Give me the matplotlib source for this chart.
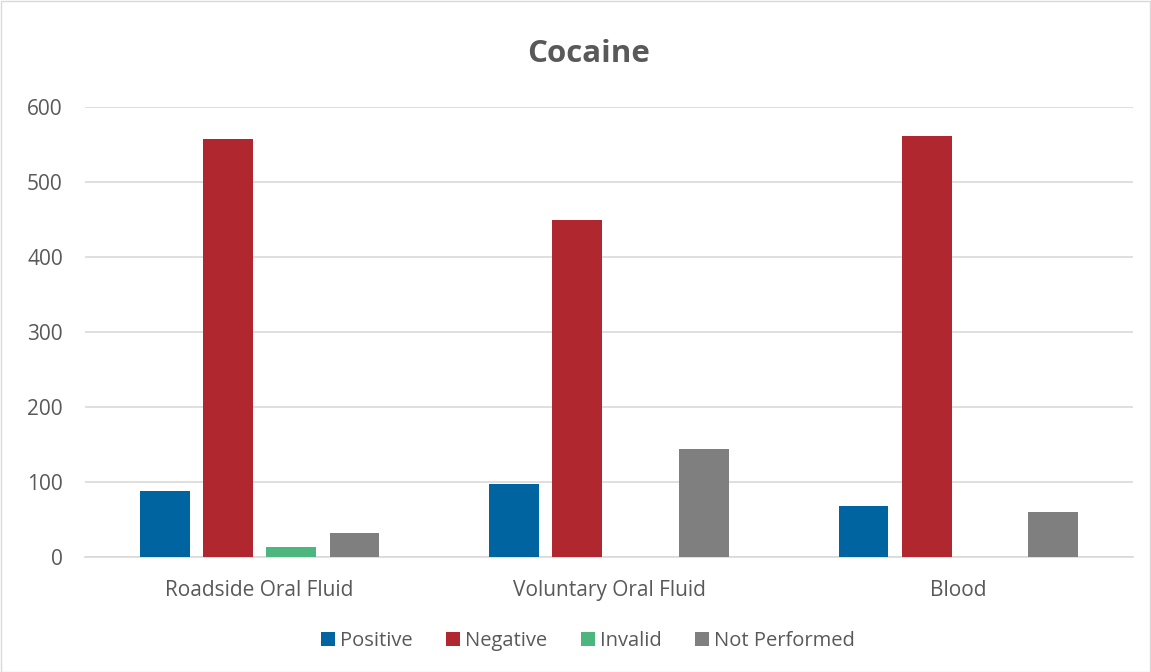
import matplotlib
matplotlib.use("Agg")
import matplotlib.pyplot as plt
import numpy as np
from matplotlib.patches import Rectangle

categories = ["Roadside Oral Fluid", "Voluntary Oral Fluid", "Blood"]
series_names = ["Positive", "Negative", "Invalid", "Not Performed"]
positive = [88, 98, 68]
negative = [557, 449, 562]
invalid = [14, 0, 0]
not_performed = [32, 144, 60]
colors = ["#0064A1", "#B0272F", "#4DB67F", "#7F7F7F"]
yticks = [0, 100, 200, 300, 400, 500, 600]

plt.rcParams['font.family'] = ['Open Sans', 'DejaVu Sans']

fig = plt.figure(figsize=(11.51, 6.72), dpi=100)
fig.patches.append(Rectangle((0.5/1151, 0.5/672), 1 - 1.5/1151, 1 - 1.5/672,
                             transform=fig.transFigure, fill=False,
                             edgecolor="#d9d9d9", linewidth=1))
ax = fig.add_axes([85/1151, (672-557.3)/672, (1133-85)/1151, (557.3-107)/672])

x = np.arange(len(categories))
bw = 0.143
step = 0.181
data = [positive, negative, invalid, not_performed]
for i, (name, vals, c) in enumerate(zip(series_names, data, colors)):
    ax.bar(x + (i - 1.5) * step, vals, width=bw, color=c, label=name, zorder=3)

ax.set_xlim(-0.5, 2.5)
ax.set_ylim(0, 600)
ax.set_yticks(yticks)
ax.set_xticks(x)
ax.set_xticklabels(categories)
ax.grid(axis='y', color="#d9d9d9", linewidth=1.2, zorder=0)
for s in ["top", "right", "left"]:
    ax.spines[s].set_visible(False)
ax.spines["bottom"].set_color("#d9d9d9")
ax.spines["bottom"].set_linewidth(1.2)
ax.tick_params(axis='both', length=0, labelsize=15, colors="#595959")
ax.tick_params(axis='x', pad=16)
ax.tick_params(axis='y', pad=16)

fig.text(0.511, (672-54)/672, "Cocaine", ha='center', va='center',
         fontsize=22.5, fontweight='bold', color="#595959")

leg = fig.legend(loc='center', bbox_to_anchor=(0.511, (672-641)/672), ncol=4,
                 frameon=False, fontsize=14.5, handlelength=0.7, handleheight=0.7,
                 handletextpad=0.25, columnspacing=1.65)
for t in leg.get_texts():
    t.set_color("#595959")

fig.savefig("out.png", dpi=100)
